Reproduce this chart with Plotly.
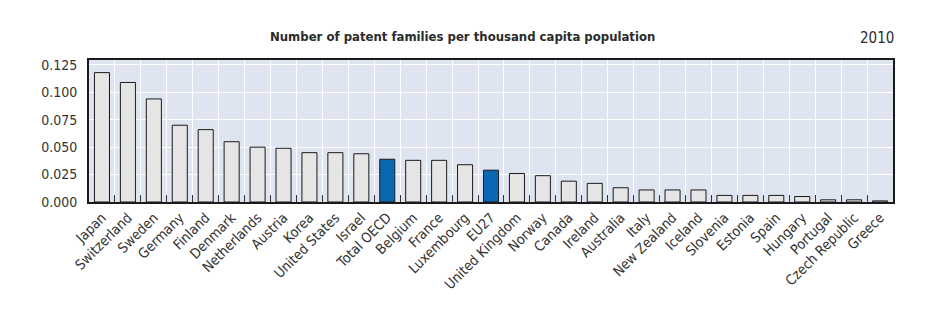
import plotly.graph_objects as go

# Patent families per thousand capita population, 2010
countries = [
    "Japan", "Switzerland", "Sweden", "Germany", "Finland", "Denmark",
    "Netherlands", "Austria", "Korea", "United States", "Israel", "Total OECD",
    "Belgium", "France", "Luxembourg", "EU27", "United Kingdom", "Norway",
    "Canada", "Ireland", "Australia", "Italy", "New Zealand", "Iceland",
    "Slovenia", "Estonia", "Spain", "Hungary", "Portugal", "Czech Republic",
    "Greece",
]
values = [
    0.118, 0.109, 0.094, 0.070, 0.066, 0.055,
    0.050, 0.049, 0.045, 0.045, 0.044, 0.039,
    0.038, 0.038, 0.034, 0.029, 0.026, 0.024,
    0.019, 0.017, 0.013, 0.011, 0.011, 0.011,
    0.006, 0.006, 0.006, 0.005, 0.002, 0.002,
    0.001,
]
aggregates = ["Total OECD", "EU27"]

GREY = "#e5e5e5"
BLUE = "#0a67b1"
bar_colors = [BLUE if c in aggregates else GREY for c in countries]

NARROW = "DejaVu Sans Condensed, Liberation Sans Narrow, sans-serif"

fig = go.Figure(
    go.Bar(
        x=countries,
        y=values,
        marker=dict(color=bar_colors, line=dict(color="#1a1a1a", width=1)),
        hoverinfo="x+y",
    )
)

fig.update_layout(
    width=946,
    height=324,
    margin=dict(l=89, r=53, t=60, b=122),
    paper_bgcolor="white",
    plot_bgcolor="#dfe4f1",
    bargap=0.42,
    showlegend=False,
    font=dict(family=NARROW, size=14, color="#333333"),
    annotations=[
        dict(
            text="<b>Number of patent families per thousand capita population</b>",
            xref="paper", yref="paper", x=0.465, y=1.0, yshift=24,
            xanchor="center", yanchor="middle", showarrow=False,
            font=dict(family=NARROW, size=13, color="#2b2b2b"),
        ),
        dict(
            text="2010",
            xref="paper", yref="paper", x=1.0, y=1.0, yshift=22, xshift=3,
            xanchor="right", yanchor="middle", showarrow=False,
            font=dict(family=NARROW, size=15, color="#2b2b2b"),
        ),
    ],
)

fig.update_xaxes(
    tickangle=-45,
    tickson="boundaries",
    ticks="inside",
    ticklen=7,
    tickwidth=1,
    tickcolor="#333333",
    showgrid=True,
    gridcolor="white",
    gridwidth=1,
    showline=True,
    linecolor="#1a1a1a",
    linewidth=2,
    mirror=True,
    tickfont=dict(family=NARROW, size=14, color="#333333"),
)

fig.update_yaxes(
    range=[0, 0.1295],
    dtick=0.025,
    tick0=0,
    tickformat=".3f",
    showgrid=True,
    gridcolor="white",
    gridwidth=1,
    zeroline=False,
    showline=True,
    linecolor="#1a1a1a",
    linewidth=2,
    mirror=True,
    ticks="",
    ticklabelstandoff=7,
    tickfont=dict(family=NARROW, size=14, color="#333333"),
)

fig.write_html("out.html")
